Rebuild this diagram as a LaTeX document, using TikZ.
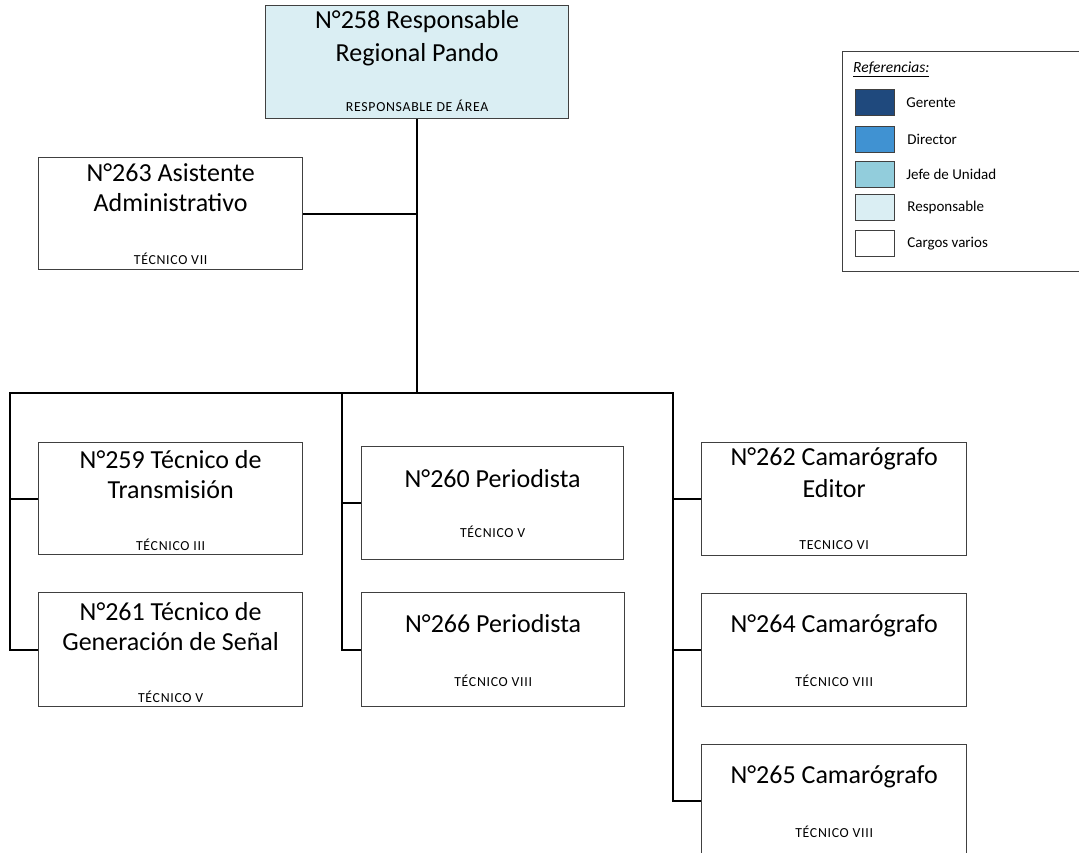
\documentclass[tikz,border=0pt]{standalone}
\usepackage{fontspec}
\setmainfont{Carlito}
\newfontfamily\subfont[LetterSpace=5]{Carlito}
\usetikzlibrary{calc}

\definecolor{gerente}{RGB}{31,73,125}
\definecolor{director}{RGB}{64,146,210}
\definecolor{jefe}{RGB}{146,205,220}
\definecolor{resp}{RGB}{218,238,243}
\definecolor{boxline}{RGB}{64,64,64}

\tikzset{
  box/.style={draw=boxline, line width=1.3pt, fill=white, rectangle, inner sep=0pt, anchor=north west},
  ttl/.style={font=\fontsize{26}{30}\selectfont, align=center, anchor=base, inner sep=0pt},
  sub/.style={font=\subfont\fontsize{13.8}{15}\selectfont, anchor=base, inner sep=0pt},
  link/.style={line width=2pt, black, line join=miter},
  swatch/.style={draw=boxline, line width=1.2pt, rectangle, inner sep=0pt, anchor=north west,
                 minimum width=39pt, minimum height=26pt},
  lbl/.style={font=\fontsize{15}{17}\selectfont, anchor=west, inner sep=0pt},
}

\begin{document}
\begin{tikzpicture}[x=1pt, y=-1pt]
  \useasboundingbox (0,0) rectangle (1079,853);
  \fill[white] (0,0) rectangle (1079,853);
  \clip (0,0) rectangle (1079,853);

  % head of the regional office (title nodes are anchored at the last line's baseline)
  \node[box, fill=resp, minimum width=303pt, minimum height=113pt] (b258) at (265,5) {};
  \node[ttl, font=\fontsize{26}{33}\selectfont] (t258) at ($(b258.north)+(0,57)$) {N°258 Responsable\\Regional Pando};
  \node[sub] (s258) at ($(b258.south)+(0,-8)$) {RESPONSABLE DE ÁREA};

  % staff assistant
  \node[box, minimum width=264pt, minimum height=112pt] (b263) at (38,157) {};
  \node[ttl] (t263) at ($(b263.north)+(0,55)$) {N°263 Asistente\\Administrativo};
  \node[sub] (s263) at ($(b263.south)+(0,-6)$) {TÉCNICO VII};

  % left column
  \node[box, minimum width=264pt, minimum height=112pt] (b259) at (38,442) {};
  \node[ttl] (t259) at ($(b259.north)+(0,56)$) {N°259 Técnico de\\Transmisión};
  \node[sub] (s259) at ($(b259.south)+(0,-5)$) {TÉCNICO III};

  \node[box, minimum width=264pt, minimum height=114pt] (b261) at (38,592) {};
  \node[ttl] (t261) at ($(b261.north)+(0,58)$) {N°261 Técnico de\\Generación de Señal};
  \node[sub] (s261) at ($(b261.south)+(0,-5)$) {TÉCNICO V};

  % middle column
  \node[box, minimum width=262pt, minimum height=113pt] (b260) at (361,446) {};
  \node[ttl] (t260) at ($(b260.north)+(0,41)$) {N°260 Periodista};
  \node[sub] (s260) at ($(b260.south)+(0,-23)$) {TÉCNICO V};

  \node[box, minimum width=263pt, minimum height=114pt] (b266) at (361,592) {};
  \node[ttl] (t266) at ($(b266.north)+(0,40)$) {N°266 Periodista};
  \node[sub] (s266) at ($(b266.south)+(0,-21)$) {TÉCNICO VIII};

  % right column
  \node[box, minimum width=265pt, minimum height=113pt] (b262) at (701,442) {};
  \node[ttl, font=\fontsize{26}{32}\selectfont] (t262) at ($(b262.north)+(0,55)$) {N°262 Camarógrafo\\Editor};
  \node[sub] (s262) at ($(b262.south)+(0,-7)$) {TECNICO VI};

  \node[box, minimum width=265pt, minimum height=113pt] (b264) at (701,593) {};
  \node[ttl] (t264) at ($(b264.north)+(0,39)$) {N°264 Camarógrafo};
  \node[sub] (s264) at ($(b264.south)+(0,-21)$) {TÉCNICO VIII};

  \node[box, minimum width=265pt, minimum height=113pt] (b265) at (701,744) {};
  \node[ttl] (t265) at ($(b265.north)+(0,39)$) {N°265 Camarógrafo};
  \node[sub] (s265) at ($(b265.south)+(0,-21)$) {TÉCNICO VIII};

  % connectors
  \coordinate (colL) at (10,393);
  \coordinate (colM) at (342,393);
  \coordinate (colR) at (673,393);
  \draw[link] (b258.south) -- (b258.south |- colL);
  \draw[link] (b263.east) -- (b263.east -| b258.south);
  \draw[link] (b261.west) -| (colL) -- (colR) |- (b265.west);
  \draw[link] (b259.west -| colL) -- (b259.west);
  \draw[link] (colM) |- (b266.west);
  \draw[link] (b260.west -| colM) -- (b260.west);
  \draw[link] (b262.west -| colR) -- (b262.west);
  \draw[link] (b264.west -| colR) -- (b264.west);

  % legend
  \node[box, minimum width=250pt, minimum height=220pt] (legend) at (842,51) {};
  \node[anchor=base west, inner sep=0pt, font=\fontsize{15.5}{17}\selectfont\itshape] (legtitle) at (853,73) {\underline{Referencias:}};
  \node[swatch, fill=gerente] (sw1) at (855,89) {};
  \node[lbl] (l1) at ($(sw1.east)+(11,0)$) {Gerente};
  \node[swatch, fill=director] (sw2) at (855,126) {};
  \node[lbl] (l2) at ($(sw2.east)+(12,0)$) {Director};
  \node[swatch, fill=jefe] (sw3) at (855,161) {};
  \node[lbl] (l3) at ($(sw3.east)+(11,0)$) {Jefe de Unidad};
  \node[swatch, fill=resp] (sw4) at (855,194) {};
  \node[lbl] (l4) at ($(sw4.east)+(12,0)$) {Responsable};
  \node[swatch, fill=white] (sw5) at (855,230) {};
  \node[lbl] (l5) at ($(sw5.east)+(12,0)$) {Cargos varios};
\end{tikzpicture}
\end{document}
